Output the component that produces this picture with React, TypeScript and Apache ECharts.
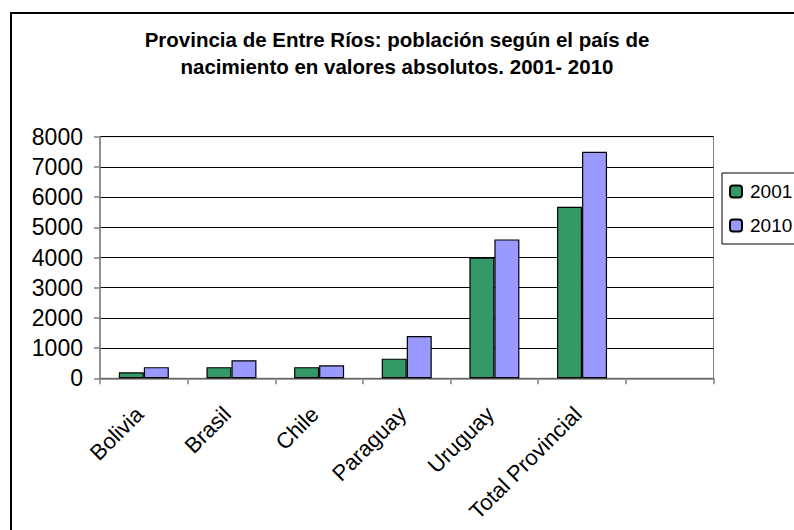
import React, { useEffect, useRef } from "react";
import * as echarts from "echarts";

const categories = ["Bolivia", "Brasil", "Chile", "Paraguay", "Uruguay", "Total Provincial", ""];
const values2001 = [200, 370, 370, 650, 4000, 5680, null];
const values2010 = [370, 600, 430, 1400, 4600, 7500, null];
const yTicks = { min: 0, max: 8000, interval: 1000 };
const titleText = "Provincia de Entre Ríos: población según el país de\nnacimiento en valores absolutos. 2001- 2010";
const seriesNames = ["2001", "2010"];
const FONT = "'Liberation Sans', Arial, sans-serif";

export default function App() {
  const ref = useRef<HTMLDivElement>(null);
  useEffect(() => {
    if (!ref.current) return;
    const chart = echarts.init(ref.current, null, { renderer: "svg" });
    chart.setOption({
      animation: false,
      backgroundColor: "#ffffff",
      textStyle: { fontFamily: FONT },
      title: {
        text: titleText,
        left: "center",
        top: 26,
        padding: 0,
        textStyle: {
          fontFamily: FONT,
          fontSize: 20.5,
          fontWeight: "bold",
          color: "#000",
          lineHeight: 27,
        },
      },
      legend: {
        orient: "vertical",
        left: 722,
        top: 173,
        padding: [9, 14, 9, 7],
        itemWidth: 12,
        itemHeight: 12,
        itemGap: 15,
        borderColor: "#000",
        borderWidth: 1,
        textStyle: { fontFamily: FONT, fontSize: 19, color: "#000", lineHeight: 19, padding: [0, 0, 0, 3] },
        data: seriesNames,
      },
      grid: {
        left: 100,
        right: 80.5,
        top: 136.7,
        bottom: 151.7,
        containLabel: false,
        outerBoundsMode: "none",
        show: true,
        borderColor: "#808080",
        borderWidth: 1,
      },
      xAxis: {
        type: "category",
        data: categories,
        boundaryGap: true,
        axisLine: { show: true, lineStyle: { color: "#808080", width: 1.5 } },
        axisTick: { show: true, length: 6, lineStyle: { color: "#808080", width: 1.5 } },
        axisLabel: {
          rotate: 45,
          interval: 0,
          margin: 28,
          padding: [0, 6, 0, 0],
          fontFamily: FONT,
          fontSize: 22,
          color: "#000",
        },
        splitLine: { show: false },
      },
      yAxis: {
        type: "value",
        min: yTicks.min,
        max: yTicks.max,
        interval: yTicks.interval,
        axisLine: { show: true, lineStyle: { color: "#808080", width: 1.5 } },
        axisTick: { show: true, length: 6, lineStyle: { color: "#808080", width: 1.5 } },
        axisLabel: {
          margin: 17,
          fontFamily: FONT,
          fontSize: 23,
          color: "#000",
          formatter: (v: number) => String(v),
        },
        splitLine: { show: true, lineStyle: { color: "#000", width: 1 } },
      },
      series: [
        {
          name: seriesNames[0],
          type: "bar",
          data: values2001,
          barWidth: 25,
          barGap: "0%",
          itemStyle: { color: "#339966", borderColor: "#000", borderWidth: 1.2 },
        },
        {
          name: seriesNames[1],
          type: "bar",
          data: values2010,
          barWidth: 25,
          barGap: "0%",
          itemStyle: { color: "#9999FF", borderColor: "#000", borderWidth: 1.2 },
        },
      ],
      graphic: [
        {
          type: "rect",
          shape: { x: 11, y: 13, width: 820, height: 600 },
          style: { fill: "none", stroke: "#000", lineWidth: 2 },
          silent: true,
          z: 100,
        },
      ],
    });
    return () => chart.dispose();
  }, []);
  return (
    <div
      ref={ref}
      style={{ position: "absolute", left: 0, top: 0, width: 794, height: 530 }}
    />
  );
}
